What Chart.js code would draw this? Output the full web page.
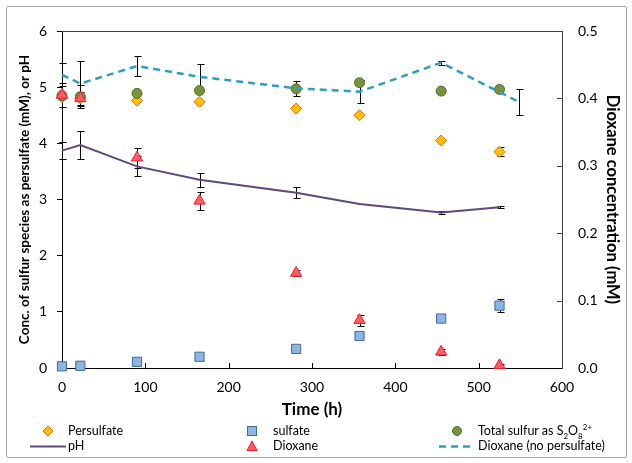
<!DOCTYPE html>
<html>
<head>
<meta charset="utf-8">
<script src="https://cdn.jsdelivr.net/npm/chart.js@4.4.1/dist/chart.umd.min.js"></script>
<style>
  html, body { margin: 0; padding: 0; background: #fff; }
  #wrap { position: relative; width: 632px; height: 463px; font-family: Lato, sans-serif; }
  #frame { position: absolute; left: 6px; top: 6px; width: 619px; height: 450px;
           border: 1px solid #a6a6a6; border-radius: 2px; pointer-events: none; }
  canvas { position: absolute; left: 0; top: 0; }
  #legend { position: absolute; left: 0; top: 0; width: 632px; height: 463px; font-size: 12.5px; color: #000; }
  .item { position: absolute; white-space: nowrap; line-height: 14px; }
  .item svg { position: absolute; top: 0; }
  sub, sup { font-size: 8px; line-height: 0; }
</style>
</head>
<body>
<div id="wrap">
  <canvas id="chart" width="632" height="463"></canvas>
  <div id="legend"></div>
  <div id="frame"></div>
</div>
<script>

// ---------------------------------------------------------------------------
// Data
// ---------------------------------------------------------------------------

var hours = [0, 22, 90, 165, 281, 357, 455, 525];
var hoursNoPersulfate = [0, 22, 90, 165, 281, 357, 455, 548];

var persulfate    = [4.82, 4.80, 4.76, 4.74, 4.62, 4.50, 4.05, 3.85];
var persulfateErr = [0, 0, 0, 0, 0, 0, 0, 0.08];

var sulfate    = [0.03, 0.04, 0.11, 0.20, 0.34, 0.57, 0.88, 1.11];
var sulfateErr = [0, 0, 0, 0, 0, 0, 0, 0.12];

var totalSulfur    = [4.85, 4.83, 4.89, 4.94, 4.97, 5.08, 4.93, 4.96];
var totalSulfurErr = [0, 0.2, 0, 0, 0, 0, 0, 0];

var ph    = [3.87, 3.97, 3.59, 3.35, 3.12, 2.92, 2.77, 2.86];
var phErr = [0.15, 0.25, 0.18, 0.13, 0.10, 0, 0.03, 0.02];

var dioxane    = [0.405, 0.400, 0.312, 0.248, 0.141, 0.071, 0.024, 0.004];
var dioxaneErr = [0.018, 0.010, 0.015, 0.013, 0.005, 0.008, 0.004, 0.002];

var dioxaneNoPersulfate    = [0.435, 0.422, 0.448, 0.432, 0.415, 0.410, 0.453, 0.395];
var dioxaneNoPersulfateErr = [0.017, 0.033, 0.015, 0.019, 0.011, 0.017, 0.003, 0.019];

var xTicks = [0, 100, 200, 300, 400, 500, 600];
var leftTicks = [0, 1, 2, 3, 4, 5, 6];
var rightTicks = [0.0, 0.1, 0.2, 0.3, 0.4, 0.5];

// legend grid: column / row for each dataset, in dataset order
var legendSlots = [[0, 0], [1, 0], [2, 0], [0, 1], [1, 1], [2, 1]];
var legendCols = [{ marker: 48, text: 68 }, { marker: 252, text: 273 }, { marker: 457, text: 478 }];
var legendRows = [431, 446];

function pts(xs, ys) {
  return xs.map(function (x, i) { return { x: x, y: ys[i] }; });
}

// ---------------------------------------------------------------------------
// Plugins: error bars, plot-area frame, inside tick marks
// ---------------------------------------------------------------------------

var errorBars = {
  id: 'errorBars',
  beforeDatasetsDraw: function (chart) {
    var ctx = chart.ctx;
    chart.data.datasets.forEach(function (ds, i) {
      if (!ds.errors) return;
      var meta = chart.getDatasetMeta(i);
      var xs = chart.scales[meta.xAxisID];
      var ys = chart.scales[meta.yAxisID];
      ctx.save();
      ctx.strokeStyle = '#000';
      ctx.lineWidth = 1;
      ds.data.forEach(function (p, j) {
        var e = ds.errors[j];
        if (!e) return;
        var x = Math.round(xs.getPixelForValue(p.x)) + 0.5;
        var y1 = Math.round(ys.getPixelForValue(p.y + e)) + 0.5;
        var y2 = Math.round(ys.getPixelForValue(p.y - e)) + 0.5;
        ctx.beginPath();
        ctx.moveTo(x, y1); ctx.lineTo(x, y2);
        ctx.moveTo(x - 3, y1); ctx.lineTo(x + 4, y1);
        ctx.moveTo(x - 3, y2); ctx.lineTo(x + 4, y2);
        ctx.stroke();
      });
      ctx.restore();
    });
  }
};

var frameAndTicks = {
  id: 'frameAndTicks',
  beforeDatasetsDraw: function (chart) {
    var ctx = chart.ctx;
    var a = chart.chartArea;
    var sx = chart.scales.x, sr = chart.scales.y1;
    ctx.save();
    ctx.lineWidth = 1;
    ctx.strokeStyle = '#404040';
    ctx.beginPath();
    ctx.moveTo(a.left, Math.round(a.top) + 0.5);
    ctx.lineTo(Math.round(a.right) + 0.5, Math.round(a.top) + 0.5);
    ctx.stroke();
    ctx.strokeStyle = '#000';
    ctx.beginPath();
    xTicks.slice(1, -1).forEach(function (v) {
      var x = Math.round(sx.getPixelForValue(v)) + 0.5;
      ctx.moveTo(x, a.bottom); ctx.lineTo(x, a.bottom - 5);
    });
    ctx.stroke();
    ctx.strokeStyle = '#404040';
    ctx.beginPath();
    rightTicks.slice(1, -1).forEach(function (v) {
      var y = Math.round(sr.getPixelForValue(v)) + 0.5;
      ctx.moveTo(a.right, y); ctx.lineTo(a.right - 5, y);
    });
    ctx.stroke();
    ctx.restore();
  }
};

// ---------------------------------------------------------------------------
// Chart
// ---------------------------------------------------------------------------

Chart.defaults.font.family = 'Lato, sans-serif';
Chart.defaults.font.size = 14;
Chart.defaults.color = '#000';

var ctx = document.getElementById('chart').getContext('2d');

var chart = new Chart(ctx, {
  type: 'scatter',
  data: {
    datasets: [
      {
        label: 'Persulfate', legendHtml: 'Persulfate',
        data: pts(hours, persulfate), errors: persulfateErr, yAxisID: 'y',
        pointStyle: 'rectRot', pointRadius: 5.5, borderWidth: 1,
        backgroundColor: '#FFC000', borderColor: '#D0691C', order: 4, clip: false
      },
      {
        label: 'sulfate', legendHtml: 'sulfate',
        data: pts(hours, sulfate), errors: sulfateErr, yAxisID: 'y',
        pointStyle: 'rect', pointRadius: 6.5, borderWidth: 1,
        backgroundColor: '#8DB4E2', borderColor: '#3E6A99', order: 5, clip: false
      },
      {
        label: 'Total sulfur as S₂O₈²⁺', legendHtml: 'Total sulfur as S<sub>2</sub>O<sub>8</sub><sup>2+</sup>',
        data: pts(hours, totalSulfur), errors: totalSulfurErr, yAxisID: 'y',
        pointStyle: 'circle', pointRadius: 5, borderWidth: 1,
        backgroundColor: '#77933C', borderColor: '#546B2A', order: 3, clip: false
      },
      {
        label: 'pH', legendHtml: 'pH',
        data: pts(hours, ph), errors: phErr, yAxisID: 'y',
        showLine: true, pointRadius: 0, borderWidth: 2,
        borderColor: '#5F497A', backgroundColor: '#5F497A', order: 6, clip: false
      },
      {
        label: 'Dioxane', legendHtml: 'Dioxane',
        data: pts(hours, dioxane), errors: dioxaneErr, yAxisID: 'y1',
        pointStyle: 'triangle', pointRadius: 6.5, borderWidth: 1,
        backgroundColor: '#FF5B66', borderColor: '#F01E2C', order: 2, clip: false
      },
      {
        label: 'Dioxane (no persulfate)', legendHtml: 'Dioxane (no persulfate)',
        data: pts(hoursNoPersulfate, dioxaneNoPersulfate), errors: dioxaneNoPersulfateErr, yAxisID: 'y1',
        showLine: true, pointRadius: 0, borderWidth: 2.5, borderDash: [7, 5],
        borderColor: '#2E9DC0', backgroundColor: '#2E9DC0', order: 1, clip: false
      }
    ]
  },
  options: {
    responsive: false,
    animation: false,
    events: [],
    layout: { padding: { top: 31, bottom: 38, left: 0, right: 0 } },
    plugins: { legend: { display: false }, tooltip: { enabled: false } },
    scales: {
      x: {
        type: 'linear', min: 0, max: 600,
        afterBuildTicks: function (s) { s.ticks = xTicks.map(function (v) { return { value: v }; }); },
        ticks: { padding: 11 },
        grid: { display: false, drawTicks: false },
        border: { color: '#000', width: 1 },
        title: { display: true, text: 'Time (h)', font: { size: 17, weight: 'bold' }, padding: { top: 0, bottom: 5 } },
        afterFit: function (s) { s.height = 57; }
      },
      y: {
        position: 'left', min: 0, max: 6,
        afterBuildTicks: function (s) { s.ticks = leftTicks.map(function (v) { return { value: v }; }); },
        ticks: { padding: 10 },
        grid: { drawOnChartArea: false, drawTicks: true, tickLength: 5, color: '#000' },
        border: { color: '#000', width: 1 },
        title: { display: true, text: 'Conc. of sulfur species as persulfate (mM), or pH',
                 font: { size: 13.5, weight: 'bold' }, padding: { top: 17, bottom: 0 } },
        afterFit: function (s) { s.width = 62; }
      },
      y1: {
        position: 'right', min: 0, max: 0.5,
        afterBuildTicks: function (s) { s.ticks = rightTicks.map(function (v) { return { value: v }; }); },
        ticks: { padding: 16, callback: function (v) { return v.toFixed(1); } },
        grid: { display: false, drawTicks: false },
        border: { color: '#404040', width: 1 },
        title: { display: true, text: 'Dioxane concentration (mM)',
                 font: { size: 16.5, weight: 'bold' }, padding: { top: 10, bottom: 0 } },
        afterFit: function (s) { s.width = 70; }
      }
    }
  },
  plugins: [frameAndTicks, errorBars]
});

// ---------------------------------------------------------------------------
// Legend (three columns, two rows, like the original)
// ---------------------------------------------------------------------------

function markerSvg(ds) {
  var f = ds.backgroundColor, s = ds.borderColor;
  if (ds.showLine) {
    var dash = ds.borderDash ? ' stroke-dasharray="7,5"' : '';
    return '<svg width="36" height="14" style="left:-18px"><line x1="0" y1="7.5" x2="36" y2="7.5" stroke="' + s +
      '" stroke-width="' + ds.borderWidth + '"' + dash + '/></svg>';
  }
  var shape;
  if (ds.pointStyle === 'rectRot') shape = '<polygon points="7,2 12,7 7,12 2,7" fill="' + f + '" stroke="' + s + '"/>';
  else if (ds.pointStyle === 'rect') shape = '<rect x="2.5" y="2.5" width="9" height="9" fill="' + f + '" stroke="' + s + '"/>';
  else if (ds.pointStyle === 'circle') shape = '<circle cx="7" cy="7" r="4.5" fill="' + f + '" stroke="' + s + '"/>';
  else shape = '<polygon points="7,2 12,11.5 2,11.5" fill="' + f + '" stroke="' + s + '"/>';
  return '<svg width="14" height="14" style="left:-7px">' + shape + '</svg>';
}

var legendEl = document.getElementById('legend');
chart.data.datasets.forEach(function (ds, i) {
  var col = legendCols[legendSlots[i][0]];
  var rowY = legendRows[legendSlots[i][1]];
  var m = document.createElement('div');
  m.className = 'item';
  m.style.left = col.marker + 'px';
  m.style.top = (rowY - 7) + 'px';
  m.innerHTML = markerSvg(ds);
  legendEl.appendChild(m);
  var t = document.createElement('div');
  t.className = 'item';
  t.style.left = col.text + 'px';
  t.style.top = (rowY - 7) + 'px';
  t.innerHTML = ds.legendHtml;
  legendEl.appendChild(t);
});

</script>
</body>
</html>
